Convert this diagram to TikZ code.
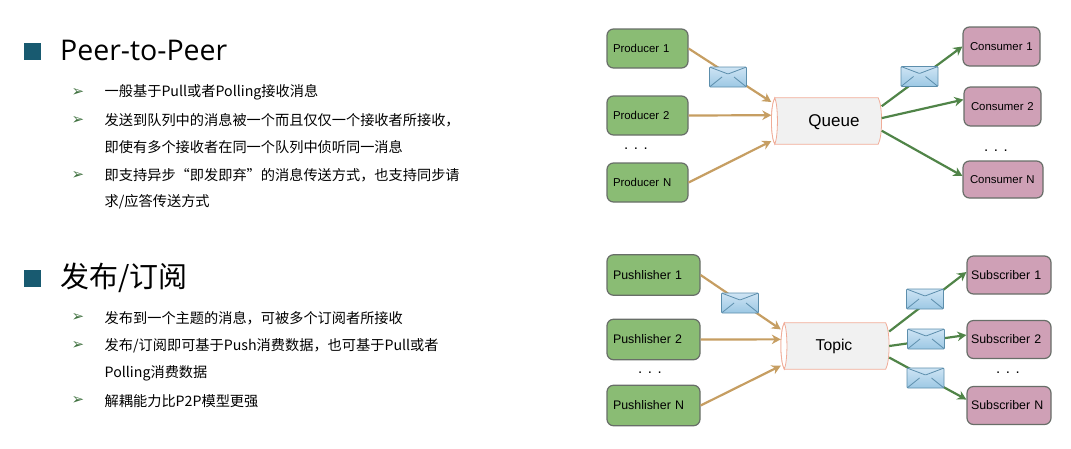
\documentclass[tikz,border=0pt]{standalone}
\usepackage{fontspec}
\usepackage{tikz}
\usetikzlibrary{arrows.meta}
\setmainfont{Noto Sans CJK SC}
\newfontfamily\labelfont{Liberation Sans}
\newfontfamily\titlefont{Open Sans}
\newfontfamily\markfont{DejaVu Sans}
\definecolor{sendgreen}{RGB}{138,188,116}
\definecolor{recvpink}{RGB}{207,160,182}
\definecolor{boxgray}{RGB}{104,110,104}
\definecolor{sendtan}{RGB}{198,158,98}
\definecolor{recvgreen}{RGB}{80,132,72}
\definecolor{pipeline}{RGB}{240,172,152}
\definecolor{pipefill}{RGB}{241,241,241}
\definecolor{headblue}{RGB}{24,90,112}
\definecolor{markgreen}{RGB}{60,110,60}
\definecolor{maildark}{RGB}{92,142,172}
\definecolor{mailtop}{RGB}{206,228,244}
\definecolor{mailbot}{RGB}{156,200,228}
\tikzset{
	box/.style={rectangle, rounded corners=6.5pt, draw=boxgray, line width=1.2pt,
		inner xsep=0pt, inner ysep=0pt, align=left, font=\labelfont\fontsize{11.4}{13}\selectfont},
	sender/.style={box, fill=sendgreen},
	receiver/.style={box, fill=recvpink},
	pipe/.style={rectangle, inner sep=0pt, minimum height=46pt},
	pipeedge/.style={draw=pipeline, line width=0.8pt},
	mail/.style={rectangle, draw=maildark, line width=0.8pt, rounded corners=1pt,
		top color=mailtop, bottom color=mailbot, minimum width=37pt, minimum height=20pt, inner sep=0pt,
		path picture={
			\draw[maildark, line width=0.8pt]
				(path picture bounding box.north west) -- ([yshift=3pt]path picture bounding box.center)
				-- (path picture bounding box.north east);
			\draw[maildark, line width=0.8pt]
				(path picture bounding box.south west) -- ([xshift=-6pt]path picture bounding box.center);
			\draw[maildark, line width=0.8pt]
				(path picture bounding box.south east) -- ([xshift=6pt]path picture bounding box.center);
		}},
	send/.style={draw=sendtan, line width=2.2pt, -{Stealth[length=9pt,width=9.5pt]}},
	recv/.style={draw=recvgreen, line width=2.2pt, -{Stealth[length=9pt,width=9.5pt]}},
	headtext/.style={anchor=west, inner sep=0pt, font=\fontsize{29}{34}\selectfont},
	bodytext/.style={anchor=west, inner sep=0pt, font=\fontsize{14.2}{17}\selectfont},
	tick/.style={inner sep=0pt, text=markgreen, font=\markfont\fontsize{15}{17}\selectfont},
	headsquare/.style={fill=headblue, inner sep=0pt, minimum size=17pt},
	dotgap/.style={inner sep=0pt, font=\labelfont\fontsize{15}{17}\selectfont}
}
\newcommand{\drawpipe}[1]{
	\draw[pipeedge, fill=pipefill] ([xshift=3.5pt]#1.north west) -- ([xshift=-3.5pt]#1.north east)
		.. controls ([xshift=1pt,yshift=-8pt]#1.north east) and ([xshift=1pt,yshift=8pt]#1.south east) .. ([xshift=-3.5pt]#1.south east)
		-- ([xshift=3.5pt]#1.south west)
		.. controls ([xshift=-1pt,yshift=8pt]#1.south west) and ([xshift=-1pt,yshift=-8pt]#1.north west) .. cycle;
	\draw[pipeedge, fill=white] ([xshift=3.5pt]#1.north west)
		.. controls ([xshift=7pt,yshift=-8pt]#1.north west) and ([xshift=7pt,yshift=8pt]#1.south west) .. ([xshift=3.5pt]#1.south west)
		.. controls ([xshift=-1pt,yshift=8pt]#1.south west) and ([xshift=-1pt,yshift=-8pt]#1.north west) .. cycle;
}

\begin{document}
\begin{tikzpicture}[x=1pt, y=-1pt]
\useasboundingbox (0,0) rectangle (1071,448);

% left text
\node[headsquare] (squareA) at (32.5,51) {};
\node[headtext, font=\titlefont\fontsize{28.5}{34}\selectfont] (titleA) at (60,50) {Peer-to-Peer};
\foreach \n/\y in {1/92, 2/120, 3/175}{
	\node[tick] (markA\n) at (78,\y) {➢};
}
\node[bodytext] (lineA1) at (104.5,92) {一般基于Pull或者Polling接收消息};
\node[bodytext] (lineA2) at (104.5,120) {发送到队列中的消息被一个而且仅仅一个接收者所接收，};
\node[bodytext] (lineA3) at (104.5,147) {即使有多个接收者在同一个队列中侦听同一消息};
\node[bodytext] (lineA4) at (104.5,175) {即支持异步“即发即弃”的消息传送方式，也支持同步请};
\node[bodytext] (lineA5) at (104.5,202) {求/应答传送方式};

\node[headsquare] (squareB) at (32.5,278) {};
\node[headtext] (titleB) at (60,278) {发布/订阅};
\foreach \n/\y in {1/317, 2/345, 3/400}{
	\node[tick] (markB\n) at (78,\y) {➢};
}
\node[bodytext] (lineB1) at (104.5,318) {发布到一个主题的消息，可被多个订阅者所接收};
\node[bodytext] (lineB2) at (104.5,346) {发布/订阅即可基于Push消费数据，也可基于Pull或者};
\node[bodytext] (lineB3) at (104.5,373) {Polling消费数据};
\node[bodytext] (lineB4) at (104.5,401) {解耦能力比P2P模型更强};

% queue
\foreach \n/\y/\t in {1/48.5/Producer 1, 2/115.5/Producer 2, 3/182.5/Producer N}{
	\node[sender, minimum width=81pt, minimum height=39pt, text width=69pt] (prod\n) at (647.5,\y) {\t};
}
\node[receiver, minimum width=77pt, minimum height=39pt, text width=63pt] (cons1) at (1001.5,46.5) {Consumer 1};
\node[receiver, minimum width=77pt, minimum height=39pt, text width=63pt] (cons2) at (1002.5,106.5) {Consumer 2};
\node[receiver, minimum width=80pt, minimum height=37pt, text width=66pt] (cons3) at (1003,179.5) {Consumer N};
\node[pipe, minimum width=110pt] (queue) at (826.5,121) {};
\drawpipe{queue}
\node[font=\labelfont\fontsize{17}{20}\selectfont, inner sep=0pt] (queuetext) at (834,122) {Queue};
\node[dotgap] (dotsA) at (636,149) {. . .};
\node[dotgap] (dotsB) at (996,151) {. . .};

\draw[send] (prod1.east) -- (queue.161);
\draw[send] (prod2.east) -- (queue.174.3);
\draw[send] (prod3.east) -- (queue.200);
\draw[recv] (queue.15) -- (cons1.west);
\draw[recv] (queue.3) -- (cons2.170);
\draw[recv] (queue.-10) -- (cons3.175);

\node[mail] (mail1) at (728,77) {};
\node[mail] (mail2) at (919.5,76.5) {};

% topic
\foreach \n/\y/\t in {1/275/Pushlisher 1, 2/339.5/Pushlisher 2, 3/405.5/Pushlisher N}{
	\node[sender, minimum width=93pt, minimum height=40.5pt, text width=81pt,
		font=\labelfont\fontsize{12.4}{14}\selectfont] (pub\n) at (653.5,\y) {\t};
}
\foreach \n/\y/\t in {1/275/Subscriber 1, 2/339.5/Subscriber 2, 3/405.5/Subscriber N}{
	\node[receiver, minimum width=84pt, minimum height=38pt, text width=76pt,
		font=\labelfont\fontsize{12.4}{14}\selectfont] (sub\n) at (1009,\y) {\t};
}
\node[pipe, minimum width=108pt] (topic) at (835,346) {};
\drawpipe{topic}
\node[font=\labelfont\fontsize{15.7}{19}\selectfont, inner sep=0pt] (topictext) at (834,346) {Topic};
\node[dotgap] (dotsC) at (650,373) {. . .};
\node[dotgap] (dotsD) at (1008,373) {. . .};

\draw[send] (pub1.east) -- (topic.163);
\draw[send] (pub2.east) -- (topic.173.1);
\draw[send] (pub3.east) -- (topic.200);
\draw[recv] (topic.15) -- (sub1.176);
\draw[recv] (topic.0) -- (sub2.174);
\draw[recv] (topic.-12) -- (sub3.172.5);

\node[mail] (mail3) at (740,303) {};
\node[mail] (mail4) at (925,299) {};
\node[mail] (mail5) at (926,339) {};
\node[mail] (mail6) at (925.5,378) {};
\end{tikzpicture}
\end{document}
